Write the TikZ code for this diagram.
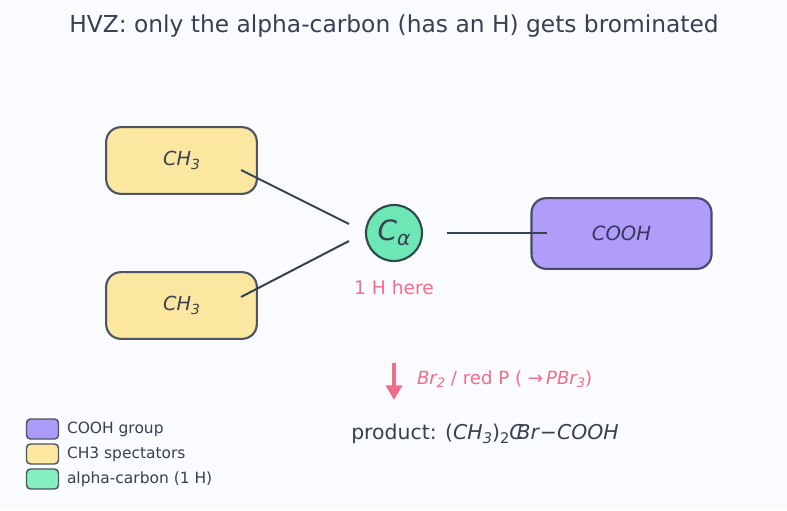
\documentclass[tikz,border=0pt]{standalone}
\usepackage{fontspec}
\setmainfont{DejaVu Sans}
\usetikzlibrary{arrows.meta}
\definecolor{bgc}{HTML}{FAFBFE}
\definecolor{txt}{HTML}{374151}
\definecolor{edge}{HTML}{4B5563}
\definecolor{ylw}{HTML}{FCE7A0}
\definecolor{grn}{HTML}{6EE7B7}
\definecolor{grnl}{HTML}{86EFC0}
\definecolor{prp}{HTML}{B09CF9}
\definecolor{prpl}{HTML}{A99BF7}
\definecolor{prpedge}{HTML}{4B4868}
\definecolor{prptxt}{HTML}{3B3660}
\definecolor{cedge}{HTML}{2F4A4A}
\definecolor{pink}{HTML}{F26D8A}
\newcommand{\sbs}[1]{\raisebox{-0.35ex}{\scalebox{0.72}{#1}}}
\tikzset{
  every node/.style={inner sep=0pt, outer sep=0pt},
  ch3box/.style={draw=edge, line width=1.6pt, fill=ylw, rounded corners=11pt, minimum width=113pt, minimum height=50pt, text=txt, font=\fontsize{14.5}{17}\selectfont\itshape},
  acid/.style={draw=prpedge, line width=1.6pt, fill=prp, rounded corners=11pt, minimum width=135pt, minimum height=53pt, text=prptxt, font=\fontsize{14.7}{17}\selectfont\itshape},
  alpha/.style={circle, draw=cedge, line width=1.6pt, fill=grn, minimum size=42pt, text=txt},
  bond/.style={draw=txt, line width=1.5pt},
  swatch/.style={draw=edge, line width=1.1pt, rounded corners=3pt, minimum width=24pt, minimum height=15pt},
  legtxt/.style={anchor=west, text=txt, font=\fontsize{11.6}{13}\selectfont},
}
\begin{document}
\begin{tikzpicture}[x=0.75pt, y=-0.75pt]
\fill[bgc] (0,0) rectangle (787,510);
\useasboundingbox (0,0) rectangle (787,510);
\node[text=txt, font=\fontsize{17.5}{20}\selectfont] (title) at (394,26.5) {HVZ: only the alpha-carbon (has an H) gets brominated};
\node[ch3box] (m1) at (181.5,160.5) {\raisebox{-1.5pt}{CH\sbs{3}}};
\node[ch3box] (m2) at (181.5,305.5) {\raisebox{-1.5pt}{CH\sbs{3}}};
\node[alpha] (ca) at (394,233) {\fontsize{21}{23}\selectfont\itshape C\sbs{α}};
\node[acid] (co) at (621.5,233.5) {COOH};
\coordinate (m1e) at (241,170);
\coordinate (m2e) at (241,297);
\coordinate (ca1) at (349,224);
\coordinate (ca2) at (349,241);
\coordinate (ca3) at (447,233);
\coordinate (coe) at (547,233);
\draw[bond] (m1e) -- (ca1);
\draw[bond] (m2e) -- (ca2);
\draw[bond] (ca3) -- (coe);
\node[text=pink, font=\fontsize{14}{16}\selectfont] (hh) at (394,288) {1 H here};
\coordinate (a0) at (394,363);
\coordinate (a1) at (394,400);
\draw[draw=pink, line width=2.4pt, -{Triangle[length=11pt,width=12pt]}] (a0) -- (a1);
\node[anchor=west, text=pink, font=\fontsize{13.6}{16}\selectfont] (rg) at (417,379) {\textit{Br\sbs{2}} / red P ( →\,\textit{PBr\sbs{3}})};
\node[text=txt, font=\fontsize{15.3}{18}\selectfont] (prod) at (485,433.5) {product: (\textit{CH\sbs{3}})\sbs{2}\textit{C\kern-0.35em Br}−\textit{COOH}};
\node[swatch, fill=prpl] (s1) at (42.5,429) {};
\node[swatch, fill=ylw] (s2) at (42.5,454) {};
\node[swatch, fill=grnl] (s3) at (42.5,479) {};
\node[legtxt] (l1) at (67,429.5) {COOH group};
\node[legtxt] (l2) at (67,454.5) {CH3 spectators};
\node[legtxt] (l3) at (67,479.5) {alpha-carbon (1 H)};
\end{tikzpicture}
\end{document}
